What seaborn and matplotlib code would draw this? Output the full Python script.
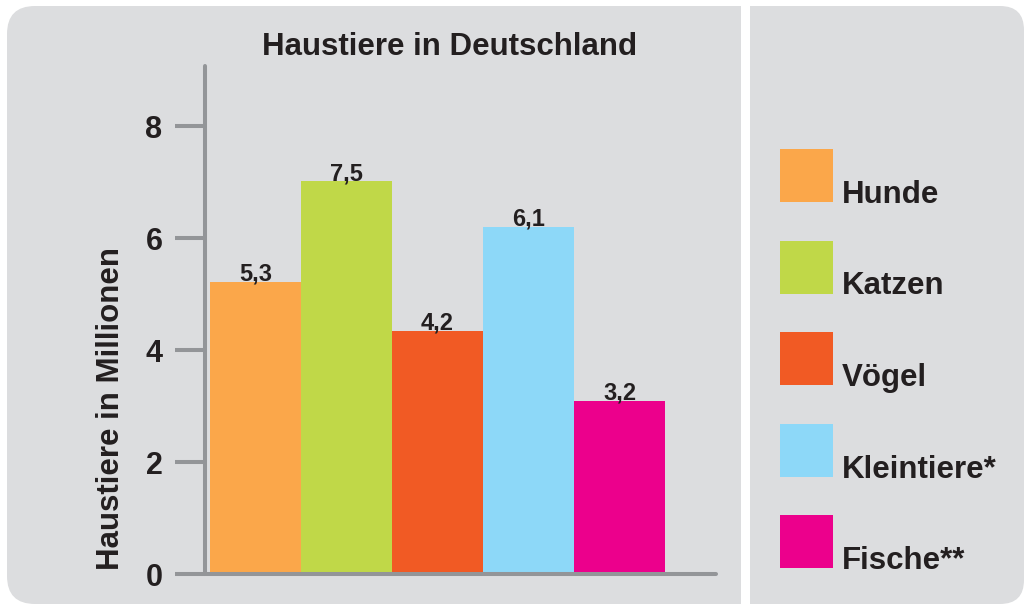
import numpy as np
import matplotlib.pyplot as plt
import seaborn as sns
from matplotlib.patches import FancyBboxPatch, Rectangle

# values (bar heights as drawn, labels as printed)
categories = ["Hunde", "Katzen", "Vögel", "Kleintiere", "Fische"]
legend_labels = ["Hunde", "Katzen", "Vögel", "Kleintiere*", "Fische**"]
bar_heights = [5.22, 7.02, 4.35, 6.21, 3.10]
value_labels = ["5,3", "7,5", "4,2", "6,1", "3,2"]
bar_colors = ["#FBA74A", "#C0D848", "#F15A24", "#8DD8F8", "#EC008C"]
y_ticks = [0, 2, 4, 6, 8]

PANEL = "#DCDDDF"
AXIS_GREY = "#939598"
INK = "#231F20"
W, H = 1026, 604

sns.set_style("white")
plt.rcParams["font.family"] = ["Liberation Sans", "DejaVu Sans"]
plt.rcParams["font.weight"] = "bold"

fig = plt.figure(figsize=(W / 100, H / 100), dpi=100)

# backdrop in pixel units, y pointing down
bg = fig.add_axes([0, 0, 1, 1], zorder=-1)
bg.set_xlim(0, W)
bg.set_ylim(H, 0)
bg.axis("off")


def panel(x0, y0, x1, y1, r, square_left):
    bg.add_patch(FancyBboxPatch((x0, y0), x1 - x0, y1 - y0,
                                boxstyle=f"round,pad=0,rounding_size={r}",
                                fc=PANEL, ec="none"))
    # square off the corners next to the divider
    mid = (x0 + x1) / 2
    if square_left:
        bg.add_patch(Rectangle((x0, y0), mid - x0, y1 - y0, fc=PANEL, ec="none"))
    else:
        bg.add_patch(Rectangle((mid, y0), x1 - mid, y1 - y0, fc=PANEL, ec="none"))


panel(7, 6, 741, 604, 28, square_left=False)
panel(750, 6, 1024, 604, 24, square_left=True)

# main chart
ax = fig.add_axes([205 / W, 1 - 574 / H, 511 / W, (574 - 66) / H])
ax.set_facecolor("none")
sns.barplot(x=categories, y=bar_heights, hue=categories, palette=bar_colors,
            width=1.0, saturation=1, legend=False, linewidth=0, ax=ax)
ax.set_xlim(-0.555, 5.06)
ax.set_ylim(0, 9.08)

for s in ["top", "right"]:
    ax.spines[s].set_visible(False)
for s in ["left", "bottom"]:
    ax.spines[s].set_color(AXIS_GREY)
    ax.spines[s].set_linewidth(2.9)
    ax.spines[s].set_capstyle("round")

ax.set_yticks(y_ticks)
ax.set_yticklabels([str(t) for t in y_ticks], fontweight="bold")
ax.tick_params(axis="y", left=True, length=21.6, width=2.9, color=AXIS_GREY,
               pad=9, labelsize=22, labelcolor=INK)
ax.tick_params(axis="x", bottom=False, labelbottom=False)
ax.set_xlabel("")
ax.set_ylabel("")

for i, (h, lab) in enumerate(zip(bar_heights, value_labels)):
    ax.text(i, h + 0.02, lab, ha="center", va="baseline", fontsize=17,
            fontweight="bold", color=INK)

fig.text(450 / W, 1 - 55 / H, "Haustiere in Deutschland", ha="center",
         va="baseline", fontsize=22.5, fontweight="bold", color=INK)
fig.text(111 / W, 1 - 409 / H, "Haustiere in Millionen", rotation=90,
         ha="center", va="center", fontsize=22.5, fontweight="bold", color=INK)

# legend on the right panel
for i, (lab, col) in enumerate(zip(legend_labels, bar_colors)):
    top = 149 + i * 91.5
    bg.add_patch(Rectangle((780, top), 53, 53, fc=col, ec="none"))
    bg.text(842, top + 54, lab, ha="left", va="baseline", fontsize=22.5,
            fontweight="bold", color=INK)

fig.savefig("out.png", dpi=100, facecolor="white")
